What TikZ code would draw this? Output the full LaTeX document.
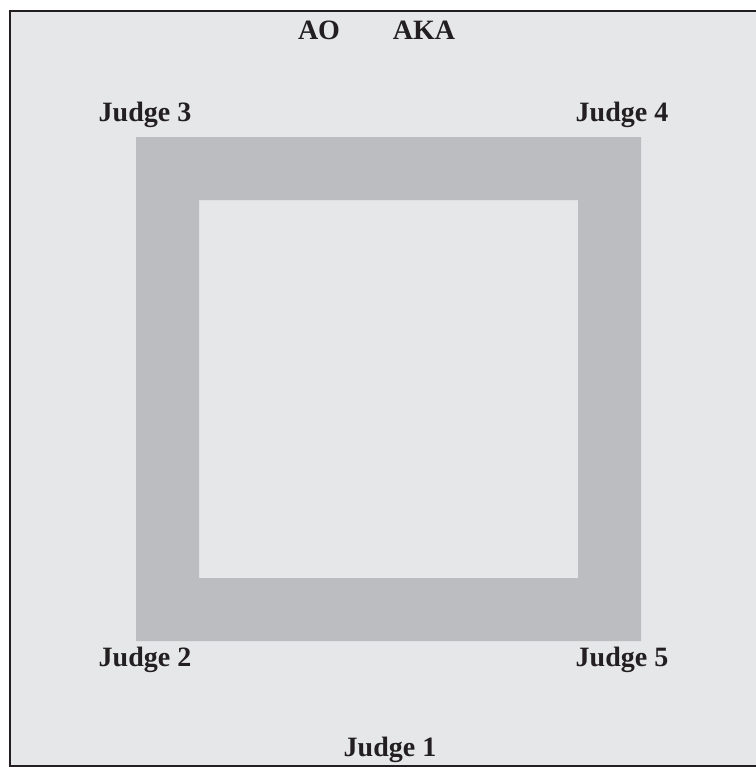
\documentclass[tikz,border=0pt]{standalone}
\usepackage{fontspec}
\setmainfont{Liberation Serif}
\definecolor{floorgray}{HTML}{E6E7E9}
\definecolor{matgray}{HTML}{BCBDC0}
\definecolor{framegray}{HTML}{231F20}

\begin{document}
\begin{tikzpicture}[x=0.75pt, y=-0.75pt,
  every node/.style={font=\fontsize{21}{24}\selectfont\bfseries, text=framegray, inner sep=0pt},
  judge/.style={anchor=base}]
  \useasboundingbox (0,0) rectangle (756,767);

  % Floor
  \fill[floorgray] (10,11) rectangle (756,766);
  \draw[framegray, line width=1.9pt] (756,11) -- (10,11) -- (10,766) -- (756,766);

  % Square band
  \fill[matgray, even odd rule] (136,137) rectangle (641,641) (199,200) rectangle (578,578);

  % Labels
  \node[judge] (ao) at (319,40) {AO};
  \node[judge] (aka) at (424,40) {AKA};
  \node[judge] (judge3) at (145,121) {Judge 3};
  \node[judge] (judge4) at (622,121) {Judge 4};
  \node[judge] (judge2) at (145,666) {Judge 2};
  \node[judge] (judge5) at (622,666) {Judge 5};
  \node[judge] (judge1) at (390,756) {Judge 1};
\end{tikzpicture}
\end{document}
